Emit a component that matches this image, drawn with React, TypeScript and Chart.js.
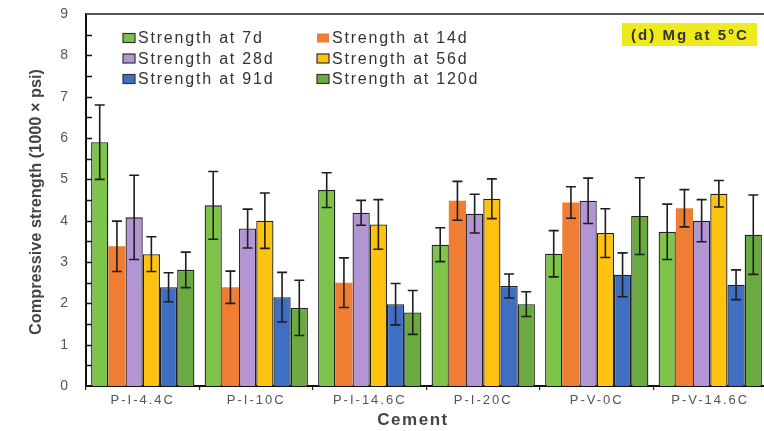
import { useEffect, useRef } from 'react';
import { Chart, registerables } from 'chart.js';

Chart.register(...registerables);

// Cement types along the x axis
const categories = ['P-I-4.4C', 'P-I-10C', 'P-I-14.6C', 'P-I-20C', 'P-V-0C', 'P-V-14.6C'];

// Mean compressive strength (1000 × psi) and the ± error for each curing age
const strength7d = [5.9, 4.37, 4.74, 3.42, 3.2, 3.73];
const error7d = [0.9, 0.82, 0.42, 0.41, 0.56, 0.67];
const strength14d = [3.38, 2.39, 2.5, 4.48, 4.44, 4.3];
const error14d = [0.61, 0.39, 0.6, 0.47, 0.38, 0.45];
const strength28d = [4.08, 3.81, 4.19, 4.17, 4.48, 4.0];
const error28d = [1.02, 0.47, 0.3, 0.47, 0.55, 0.51];
const strength56d = [3.19, 4.0, 3.91, 4.53, 3.7, 4.65];
const error56d = [0.42, 0.67, 0.6, 0.48, 0.59, 0.32];
const strength91d = [2.39, 2.15, 1.98, 2.42, 2.69, 2.45];
const error91d = [0.35, 0.6, 0.5, 0.29, 0.53, 0.36];
const strength120d = [2.81, 1.89, 1.78, 1.98, 4.11, 3.66];
const error120d = [0.43, 0.67, 0.53, 0.3, 0.93, 0.96];

const seriesLabels = [
  'Strength at 7d',
  'Strength at 14d',
  'Strength at 28d',
  'Strength at 56d',
  'Strength at 91d',
  'Strength at 120d',
];

const yTicks = [0, 1, 2, 3, 4, 5, 6, 7, 8, 9];

const panelLabel = '(d) Mg at 5°C';
const xTitle = 'Cement';
const yTitle = 'Compressive strength (1000 × psi)';

const colors = ['#7ec44a', '#ef7d33', '#b295d2', '#ffc20e', '#3f6fc2', '#6aaa40'];
const outlined = [true, false, true, true, true, true];

const W = 772;
const H = 431;
const SANS = '"Liberation Sans", Arial, sans-serif';

export default function App() {
  const ref = useRef<HTMLCanvasElement>(null);

  useEffect(() => {
    const values = [strength7d, strength14d, strength28d, strength56d, strength91d, strength120d];
    const errors = [error7d, error14d, error28d, error56d, error91d, error120d];

    const decorations = {
      id: 'decorations',
      beforeDraw(chart: any) {
        // letter-spaced axis labels
        chart.ctx.letterSpacing = '2px';
      },
      afterDatasetsDraw(chart: any) {
        const ctx = chart.ctx;
        const y = chart.scales.y;
        ctx.save();
        ctx.strokeStyle = '#1e1e1e';
        ctx.lineWidth = 1.6;
        values.forEach((vals, i) => {
          const meta = chart.getDatasetMeta(i);
          vals.forEach((v, j) => {
            const bar = meta.data[j];
            const x = bar.x;
            const top = y.getPixelForValue(v + errors[i][j]);
            const bot = y.getPixelForValue(v - errors[i][j]);
            ctx.beginPath();
            ctx.moveTo(x, top);
            ctx.lineTo(x, bot);
            ctx.moveTo(x - 5, top);
            ctx.lineTo(x + 5, top);
            ctx.moveTo(x - 5, bot);
            ctx.lineTo(x + 5, bot);
            ctx.stroke();
          });
        });
        ctx.restore();
      },
      afterDraw(chart: any) {
        const ctx = chart.ctx;
        const { left, right, top, bottom } = chart.chartArea;
        const y = chart.scales.y;
        ctx.save();
        ctx.letterSpacing = '0px';

        // frame top and right
        ctx.strokeStyle = '#555';
        ctx.lineWidth = 2;
        ctx.beginPath();
        ctx.moveTo(left, top);
        ctx.lineTo(right, top);
        ctx.lineTo(right, bottom);
        ctx.stroke();

        // inward tick marks every half unit
        ctx.strokeStyle = '#111';
        ctx.lineWidth = 1.5;
        for (let v = 0.5; v < 9; v += 0.5) {
          const py = Math.round(y.getPixelForValue(v)) + 0.5;
          ctx.beginPath();
          ctx.moveTo(left, py);
          ctx.lineTo(left + 6, py);
          ctx.stroke();
        }

        // legend in two columns
        ctx.font = `16px ${SANS}`;
        ctx.letterSpacing = '1.8px';
        ctx.textBaseline = 'middle';
        ctx.textAlign = 'left';
        seriesLabels.forEach((lab, i) => {
          const col = i % 2;
          const row = Math.floor(i / 2);
          const bx = left + 37 + col * 194;
          const by = top + 24 + row * 20.5;
          ctx.fillStyle = colors[i];
          ctx.fillRect(bx, by - 4.5, 12, 9);
          if (outlined[i]) {
            ctx.strokeStyle = '#333';
            ctx.lineWidth = 1.2;
            ctx.strokeRect(bx, by - 4.5, 12, 9);
          }
          ctx.fillStyle = '#333';
          ctx.fillText(lab, bx + 15, by + 1);
        });

        // panel label
        ctx.fillStyle = '#eeea1c';
        ctx.fillRect(left + 536, top + 9, 135, 23);
        ctx.fillStyle = '#333';
        ctx.font = `bold 15px ${SANS}`;
        ctx.letterSpacing = '2px';
        ctx.textAlign = 'center';
        ctx.fillText(panelLabel, left + 604, top + 21.5);

        // x axis title
        ctx.font = `bold 17px ${SANS}`;
        ctx.letterSpacing = '1.5px';
        ctx.fillStyle = '#444';
        ctx.fillText(xTitle, left + 327, 420);

        // y axis title, condensed to the plot height
        ctx.translate(36, (top + bottom) / 2 + 2);
        ctx.rotate(-Math.PI / 2);
        ctx.font = `bold 17px ${SANS}`;
        ctx.letterSpacing = '0px';
        const tw = ctx.measureText(yTitle).width;
        ctx.scale(266 / tw, 1);
        ctx.fillStyle = '#444';
        ctx.fillText(yTitle, 0, 0);
        ctx.restore();
        ctx.letterSpacing = '0px';
      },
    };

    const chart = new Chart(ref.current as HTMLCanvasElement, {
      type: 'bar',
      data: {
        labels: categories,
        datasets: values.map((vals, i) => ({
          label: seriesLabels[i],
          data: vals,
          backgroundColor: colors[i],
          borderColor: '#1e1e1e',
          borderWidth: outlined[i] ? 1.3 : 0,
          categoryPercentage: 0.91,
          barPercentage: 1,
        })),
      },
      options: {
        responsive: false,
        animation: false,
        events: [],
        layout: { padding: { left: 0, top: 14, right: 5, bottom: 0 } },
        plugins: {
          legend: { display: false },
          tooltip: { enabled: false },
        },
        scales: {
          x: {
            grid: {
              display: true,
              drawOnChartArea: false,
              drawTicks: true,
              tickLength: 4,
              color: '#222',
              lineWidth: 1.2,
              offset: true,
            },
            border: { display: true, color: '#111', width: 2 },
            ticks: {
              font: { family: SANS, size: 13 },
              color: '#555',
              padding: 3,
              maxRotation: 0,
              autoSkip: false,
            },
            afterFit: (s: any) => {
              s.height = 45;
              s.paddingLeft = 0;
              s.paddingRight = 0;
            },
          },
          y: {
            min: 0,
            max: 9,
            afterBuildTicks: (s: any) => {
              s.ticks = yTicks.map((v) => ({ value: v }));
            },
            grid: { display: false, drawTicks: false },
            border: { display: true, color: '#111', width: 2 },
            ticks: {
              font: { family: SANS, size: 14 },
              color: '#555',
              padding: 16,
            },
            afterFit: (s: any) => {
              s.width = 86;
              s.paddingTop = 0;
              s.paddingBottom = 0;
            },
          },
        },
      },
      plugins: [decorations],
    });

    return () => chart.destroy();
  }, []);

  return (
    <div
      style={{
        position: 'fixed',
        left: 0,
        top: 0,
        width: 764,
        height: 431,
        overflow: 'hidden',
        background: '#fff',
      }}
    >
      <canvas ref={ref} width={W} height={H} style={{ display: 'block', width: W, height: H }} />
    </div>
  );
}
